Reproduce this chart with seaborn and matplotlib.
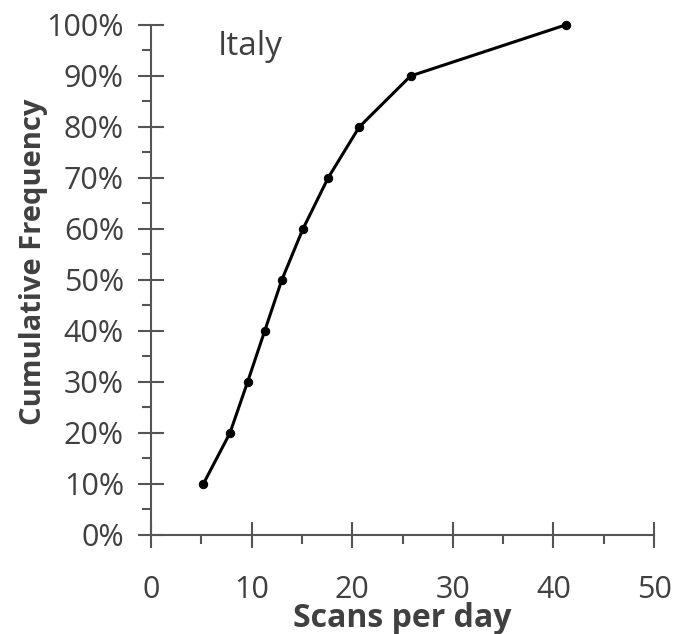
import seaborn as sns
import matplotlib.pyplot as plt
import matplotlib.ticker as mticker
import pandas as pd

# Italy - scans per day vs cumulative frequency
scans = [5.2, 7.85, 9.6, 11.3, 13.0, 15.1, 17.6, 20.7, 25.8, 41.2]
cumFreq = [0.1, 0.2, 0.3, 0.4, 0.5, 0.6, 0.7, 0.8, 0.9, 1.0]
country = "Italy"

df = pd.DataFrame({"scans": scans, "freq": cumFreq})

sns.set_style("white")
plt.rcParams['font.family'] = ['Open Sans', 'DejaVu Sans']
textColor = "#404040"
axisColor = "#555555"

fig = plt.figure(figsize=(6.78, 6.34), dpi=100)
ax = fig.add_axes([0.2227, 0.1562, 0.742, 0.8044])

sns.lineplot(data=df, x="scans", y="freq", ax=ax, color="black", linewidth=2.2,
             marker="o", markersize=6, markeredgecolor="black", clip_on=False)

ax.set_xlim(0, 50)
ax.set_ylim(0, 1)
ax.xaxis.set_major_locator(mticker.MultipleLocator(10))
ax.xaxis.set_minor_locator(mticker.MultipleLocator(5))
ax.yaxis.set_major_locator(mticker.MultipleLocator(0.1))
ax.yaxis.set_minor_locator(mticker.MultipleLocator(0.05))
ax.yaxis.set_major_formatter(mticker.PercentFormatter(1.0, decimals=0))

sns.despine(ax=ax)
for side in ["left", "bottom"]:
    ax.spines[side].set_color(axisColor)
    ax.spines[side].set_linewidth(1.5)

ax.tick_params(axis="both", which="both", bottom=True, left=True)
ax.tick_params(axis="both", which="major", direction="inout", length=19, width=1.5,
               color=axisColor, labelsize=22, labelcolor=textColor)
ax.tick_params(axis="both", which="minor", direction="out", length=6.5, width=1.5,
               color=axisColor)
ax.tick_params(axis="x", which="major", pad=19)
ax.tick_params(axis="y", which="major", pad=10)

ax.set_xlabel("Scans per day", fontsize=23, fontweight="bold", color=textColor, labelpad=-1.5)
ax.set_ylabel("Cumulative Frequency", fontsize=21, fontweight="bold", color=textColor)
ax.yaxis.set_label_coords(-0.205, 0.535)

ax.text(0.133, 0.99, country, transform=ax.transAxes, fontsize=24, color=textColor,
        ha="left", va="top")

fig.savefig("out.png", dpi=100)
